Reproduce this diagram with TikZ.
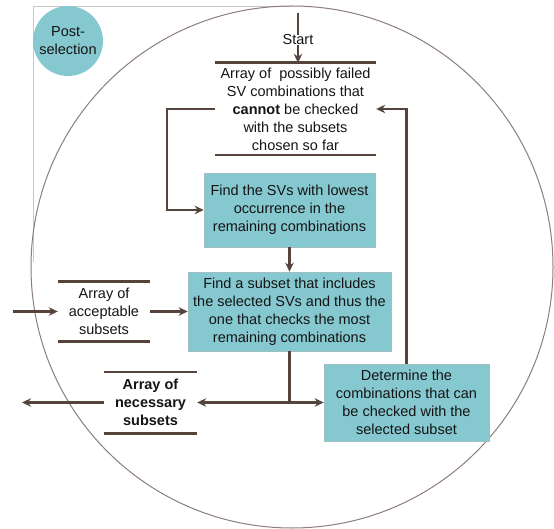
\documentclass[tikz,border=0pt]{standalone}
\usepackage{fontspec}
\setmainfont{Liberation Sans}
\usetikzlibrary{arrows.meta}
\definecolor{boxfill}{HTML}{86C8D0}
\definecolor{boxline}{HTML}{9FBFC3}
\definecolor{lc}{HTML}{54443C}
\definecolor{circ}{HTML}{8C7E78}
\definecolor{frame}{HTML}{C8C8C8}
\definecolor{txt}{HTML}{141414}
\tikzset{
  base/.style={font=\fontsize{14.5}{18}\selectfont, text=txt, align=center, inner sep=0pt},
  box/.style={base, rectangle, fill=boxfill, draw=boxline, line width=0.6pt},
  arrtext/.style={base, rectangle},
  bar/.style={draw=lc, line width=2.6pt},
  conn/.style={draw=lc, line width=2.3pt},
  arr/.style={conn, -{Stealth[length=9pt,width=8.5pt]}},
}
\begin{document}
\begin{tikzpicture}[x=1pt,y=-1pt]
\useasboundingbox (0,0) rectangle (554,529);
% frame and big circle
\draw[frame, line width=0.8pt] (33,262) -- (33,6) -- (292,6);
\draw[circ, line width=1pt] (292,267) circle (261);
% post-selection badge
\node[base, circle, fill=boxfill, minimum size=70pt] (post) at (68,41) {Post-\\selection};
% start
\node[base] (start) at (298,40) {Start};
\coordinate (top) at (298,13);
% array of possibly failed combinations
\node[arrtext, minimum width=161pt, minimum height=92pt] (arr1) at (295.5,109)
  {Array of \ possibly failed\\SV combinations that\\\textbf{cannot} be checked\\with the subsets\\chosen so far};
\draw[bar] (arr1.north west) -- (arr1.north east);
\draw[bar] (arr1.south west) -- (arr1.south east);
% boxes
\node[box, minimum width=171pt, minimum height=74pt] (box1) at (289.5,210)
  {Find the SVs with lowest\\occurrence in the\\remaining combinations};
\node[box, minimum width=203pt, minimum height=79pt] (box2) at (289.5,311.5)
  {Find a subset that includes\\the selected SVs and thus the\\one that checks the most\\remaining combinations};
\node[box, minimum width=165pt, minimum height=77pt] (box3) at (406.5,402.5)
  {Determine the\\combinations that can\\be checked with the\\selected subset};
% acceptable subsets
\node[arrtext, minimum width=92pt, minimum height=59pt] (acc) at (104,311.5)
  {Array of\\acceptable\\subsets};
\draw[bar] (acc.north west) -- (acc.north east);
\draw[bar] (acc.south west) -- (acc.south east);
% necessary subsets
\node[arrtext, minimum width=93pt, minimum height=61pt] (nec) at (150.5,402.5)
  {\textbf{Array of}\\\textbf{necessary}\\\textbf{subsets}};
\draw[bar] (nec.north west) -- (nec.north east);
\draw[bar] (nec.south west) -- (nec.south east);
% connectors
\draw[conn] (top) -- (start.north);
\draw[arr] (start.south) -- (start.south |- arr1.north);
\draw[arr] (arr1.west) -- ++(-48,0) |- (box1.west);
\draw[arr] (box1.south) -- (box2.north);
\coordinate (in) at (13,311.5);
\draw[arr] (in) -- (acc.west);
\draw[arr] (acc.east) -- (box2.west);
\coordinate (j) at (box2.south |- box3.west);
\draw[conn] (box2.south) -- (j);
\draw[arr] (j) -- (box3.west);
\draw[arr] (j) -- (nec.east);
\coordinate (out) at (22,402.5);
\draw[arr] (nec.west) -- (out);
\draw[arr] (box3.north) |- (arr1.east);
\end{tikzpicture}
\end{document}
